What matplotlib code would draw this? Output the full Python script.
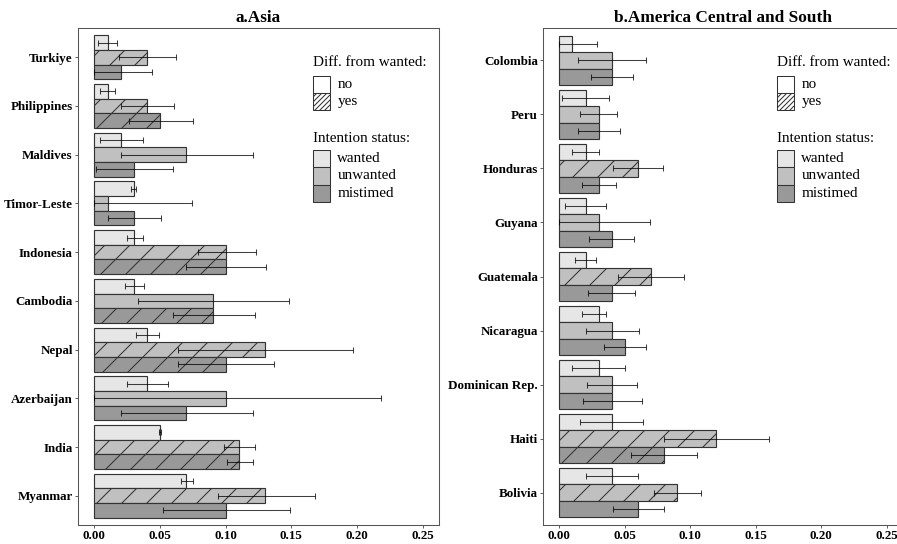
import matplotlib
matplotlib.use("Agg")
import matplotlib.pyplot as plt
from matplotlib.patches import Rectangle
import numpy as np

plt.rcParams['font.family'] = ['Liberation Serif', 'DejaVu Serif']
plt.rcParams['hatch.linewidth'] = 1.0

# ---- a. Asia ----
asia_countries = ['Turkiye', 'Philippines', 'Maldives', 'Timor-Leste', 'Indonesia',
                  'Cambodia', 'Nepal', 'Azerbaijan', 'India', 'Myanmar']
asia_wanted = [0.01, 0.01, 0.02, 0.03, 0.03, 0.03, 0.04, 0.04, 0.05, 0.07]
asia_wanted_lo = [0.003, 0.004, 0.004, 0.028, 0.025, 0.023, 0.032, 0.025, 0.049, 0.066]
asia_wanted_hi = [0.017, 0.016, 0.037, 0.032, 0.037, 0.038, 0.049, 0.056, 0.051, 0.075]
asia_unwanted = [0.04, 0.04, 0.07, 0.01, 0.10, 0.09, 0.13, 0.10, 0.11, 0.13]
asia_unwanted_lo = [0.019, 0.020, 0.020, 0.0, 0.079, 0.033, 0.064, 0.0, 0.099, 0.094]
asia_unwanted_hi = [0.062, 0.061, 0.121, 0.074, 0.123, 0.148, 0.197, 0.218, 0.122, 0.168]
asia_unwanted_sig = [1, 1, 0, 0, 1, 0, 1, 0, 1, 1]
asia_mistimed = [0.02, 0.05, 0.03, 0.03, 0.10, 0.09, 0.10, 0.07, 0.11, 0.10]
asia_mistimed_lo = [0.0, 0.026, 0.001, 0.010, 0.070, 0.060, 0.064, 0.020, 0.101, 0.052]
asia_mistimed_hi = [0.044, 0.075, 0.060, 0.051, 0.131, 0.122, 0.137, 0.121, 0.121, 0.149]
asia_mistimed_sig = [0, 1, 0, 0, 1, 1, 1, 0, 1, 0]

# ---- b. America Central and South ----
am_countries = ['Colombia', 'Peru', 'Honduras', 'Guyana', 'Guatemala',
                'Nicaragua', 'Dominican Rep.', 'Haiti', 'Bolivia']
am_wanted = [0.01, 0.02, 0.02, 0.02, 0.02, 0.03, 0.03, 0.04, 0.04]
am_wanted_lo = [0.0, 0.002, 0.010, 0.004, 0.012, 0.017, 0.010, 0.016, 0.020]
am_wanted_hi = [0.029, 0.038, 0.030, 0.036, 0.028, 0.036, 0.050, 0.064, 0.060]
am_unwanted = [0.04, 0.03, 0.06, 0.03, 0.07, 0.04, 0.04, 0.12, 0.09]
am_unwanted_lo = [0.014, 0.016, 0.041, 0.0, 0.045, 0.020, 0.021, 0.080, 0.072]
am_unwanted_hi = [0.066, 0.044, 0.079, 0.069, 0.095, 0.061, 0.059, 0.160, 0.108]
am_unwanted_sig = [0, 0, 1, 0, 1, 0, 0, 1, 1]
am_mistimed = [0.04, 0.03, 0.03, 0.04, 0.04, 0.05, 0.04, 0.08, 0.06]
am_mistimed_lo = [0.024, 0.014, 0.017, 0.023, 0.022, 0.034, 0.018, 0.055, 0.041]
am_mistimed_hi = [0.056, 0.046, 0.043, 0.057, 0.058, 0.066, 0.063, 0.105, 0.080]
am_mistimed_sig = [0, 0, 0, 0, 0, 0, 0, 1, 0]

status_labels = ['wanted', 'unwanted', 'mistimed']
status_colors = ['#e6e6e6', '#c0c0c0', '#999999']
diff_labels = ['no', 'yes']
edge = '#333333'
xticks = [0.0, 0.05, 0.10, 0.15, 0.20, 0.25]

W, H = 897, 544


def fig_xy(x, y):
    # figure pixel (from top-left) -> figure fraction
    return x / W, 1 - y / H


def draw_legend(fig, x0):
    key = 17.3
    fs = 14.5
    tx, ty = fig_xy(x0, 62)
    fig.text(tx, ty, 'Diff. from wanted:', fontsize=fs, va='center', ha='left')
    top = 75.5
    for i, lab in enumerate(diff_labels):
        x, y = fig_xy(x0, top + (i + 1) * key)
        r = Rectangle((x, y), key / W, key / H, transform=fig.transFigure,
                      facecolor='white', edgecolor=edge, linewidth=1.0,
                      hatch='/////' if lab == 'yes' else None)
        fig.add_artist(r)
        lx, ly = fig_xy(x0 + key + 7, top + (i + 0.5) * key)
        fig.text(lx, ly, lab, fontsize=fs, va='center', ha='left')
    tx, ty = fig_xy(x0, 139)
    fig.text(tx, ty, 'Intention status:', fontsize=fs, va='center', ha='left')
    top = 150
    for i, (lab, c) in enumerate(zip(status_labels, status_colors)):
        x, y = fig_xy(x0, top + (i + 1) * key)
        r = Rectangle((x, y), key / W, key / H, transform=fig.transFigure,
                      facecolor=c, edgecolor=edge, linewidth=1.0)
        fig.add_artist(r)
        lx, ly = fig_xy(x0 + key + 7, top + (i + 0.5) * key)
        fig.text(lx, ly, lab, fontsize=fs, va='center', ha='left')


def draw_panel(ax, title, countries, series):
    y = np.arange(len(countries))
    h = 0.3
    for k, (vals, lo, hi, sig) in enumerate(series):
        vals = np.array(vals)
        pos = y + (k - 1) * h
        bars = ax.barh(pos, vals, height=h, color=status_colors[k],
                       edgecolor=edge, linewidth=1.1)
        for b, s in zip(bars, sig):
            if s:
                b.set_hatch('/')
        ax.errorbar(vals, pos, xerr=[vals - np.array(lo), np.array(hi) - vals],
                    fmt='none', ecolor='black', alpha=0.75, elinewidth=1.0,
                    capsize=2.5, capthick=1.0)

    ax.set_xlim(-0.0125, 0.2625)
    ax.set_ylim(len(countries) - 0.4, -0.6)
    ax.set_yticks(y)
    ax.set_yticklabels(countries)
    ax.set_xticks(xticks)
    ax.set_xticklabels([f"{t:.2f}" for t in xticks])
    for lab in ax.get_xticklabels() + ax.get_yticklabels():
        lab.set_fontweight('bold')
        lab.set_fontsize(12.5)
    ax.tick_params(length=3, color='#444444', pad=2)
    for sp in ax.spines.values():
        sp.set_color('#555555')
        sp.set_linewidth(1.0)
    ax.set_title(title, fontweight='bold', fontsize=16.5, pad=6)


fig = plt.figure(figsize=(W / 75, H / 75), dpi=75)
ax1 = fig.add_axes([78 / W, 1 - 525 / H, (439 - 78) / W, (525 - 28) / H])
ax2 = fig.add_axes([543 / W, 1 - 525 / H, (903 - 543) / W, (525 - 28) / H])

draw_panel(ax1, 'a.Asia', asia_countries,
           [(asia_wanted, asia_wanted_lo, asia_wanted_hi, [0] * len(asia_countries)),
            (asia_unwanted, asia_unwanted_lo, asia_unwanted_hi, asia_unwanted_sig),
            (asia_mistimed, asia_mistimed_lo, asia_mistimed_hi, asia_mistimed_sig)])
draw_panel(ax2, 'b.America Central and South', am_countries,
           [(am_wanted, am_wanted_lo, am_wanted_hi, [0] * len(am_countries)),
            (am_unwanted, am_unwanted_lo, am_unwanted_hi, am_unwanted_sig),
            (am_mistimed, am_mistimed_lo, am_mistimed_hi, am_mistimed_sig)])

draw_legend(fig, 313)
draw_legend(fig, 777)

fig.savefig('out.png', dpi=75)
